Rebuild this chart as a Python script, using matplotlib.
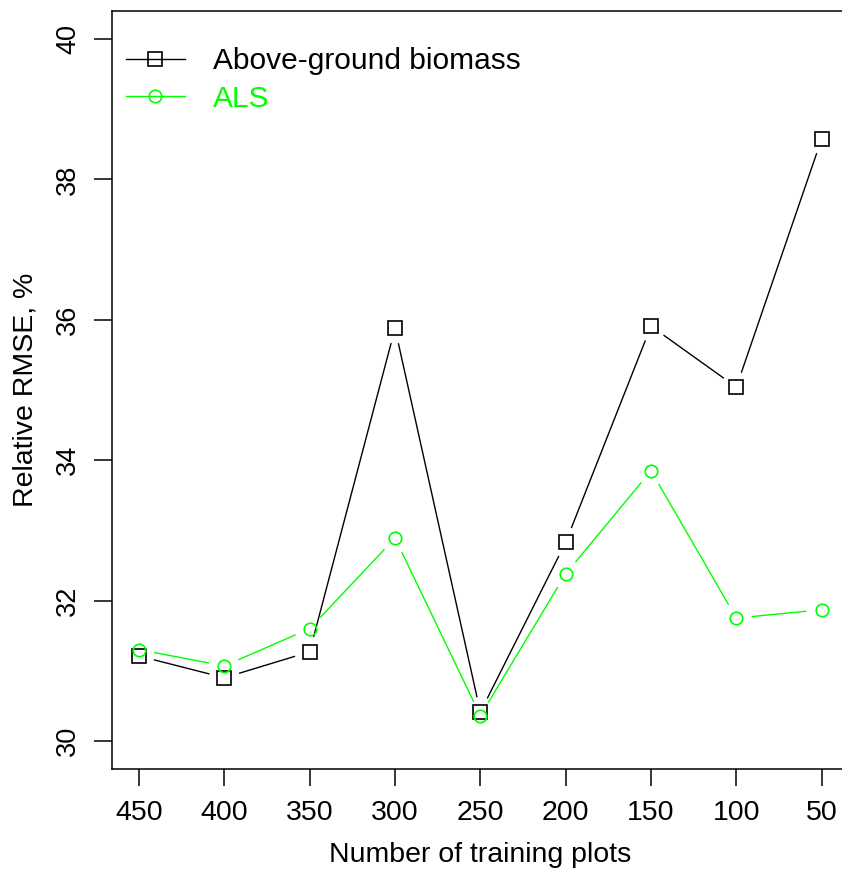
import numpy as np
import matplotlib
matplotlib.use("Agg")
from matplotlib import pyplot as plt
from matplotlib.lines import Line2D

# data
plots = ["450", "400", "350", "300", "250", "200", "150", "100", "50"]
agb = [31.21, 30.90, 31.27, 35.88, 30.41, 32.83, 35.91, 35.04, 38.58]
als = [31.30, 31.07, 31.60, 32.89, 30.36, 32.38, 33.85, 31.75, 31.87]

plt.rcParams['font.family'] = ['Liberation Sans', 'DejaVu Sans']

fig = plt.figure(figsize=(8.42, 8.72), dpi=100)
ax = fig.add_axes([0.1327, 0.1181, 0.8756, 0.8693])

x = np.arange(1, len(plots) + 1)
ax.set_xlim(0.68, 9.32)
ax.set_ylim(29.6, 40.4)

GAP = 16  # pixels left open around each point, like R type="b"


def gapped(xs, ys, color):
    tr = ax.transData
    inv = tr.inverted()
    pts = tr.transform(np.column_stack([xs, ys]))
    for p0, p1 in zip(pts[:-1], pts[1:]):
        d = p1 - p0
        L = np.hypot(*d)
        if L <= 2 * GAP:
            continue
        u = d / L
        a = inv.transform(p0 + u * GAP)
        b = inv.transform(p1 - u * GAP)
        ax.plot([a[0], b[0]], [a[1], b[1]], color=color, lw=1.0)


gapped(x, agb, 'black')
gapped(x, als, '#00ff00')
ax.plot(x, agb, ls='none', marker='s', ms=10, mfc='none', mec='black', mew=1.2)
ax.plot(x, als, ls='none', marker='o', ms=9, mfc='none', mec='#00ff00', mew=1.2)

ax.set_xticks(x)
ax.set_xticklabels(plots)
ax.set_yticks([30, 32, 34, 36, 38, 40])
for lab in ax.get_yticklabels():
    lab.set_rotation(90)
    lab.set_va('center')
ax.tick_params(axis='x', length=12, width=1.1, pad=10, labelsize=20.5)
ax.tick_params(axis='y', length=13, width=1.1, pad=9, labelsize=19.5)
for s in ax.spines.values():
    s.set_linewidth(1.1)

ax.set_xlabel('Number of training plots', fontsize=20.5, labelpad=12)
ax.set_ylabel('Relative RMSE, %', fontsize=20.5, labelpad=12)

handles = [
    Line2D([], [], color='black', lw=1.0, marker='s', ms=10, mfc='none', mew=1.2),
    Line2D([], [], color='#00ff00', lw=1.0, marker='o', ms=9, mfc='none', mew=1.2),
]
leg = ax.legend(handles, ['Above-ground biomass', 'ALS'], loc='upper left',
                bbox_to_anchor=(0.019, 0.952), frameon=False, fontsize=21.5,
                borderpad=0, borderaxespad=0, handlelength=1.97,
                handletextpad=0.94, labelspacing=0.32)
leg.get_texts()[1].set_color('#00ff00')

fig.savefig('out.png', dpi=100)
